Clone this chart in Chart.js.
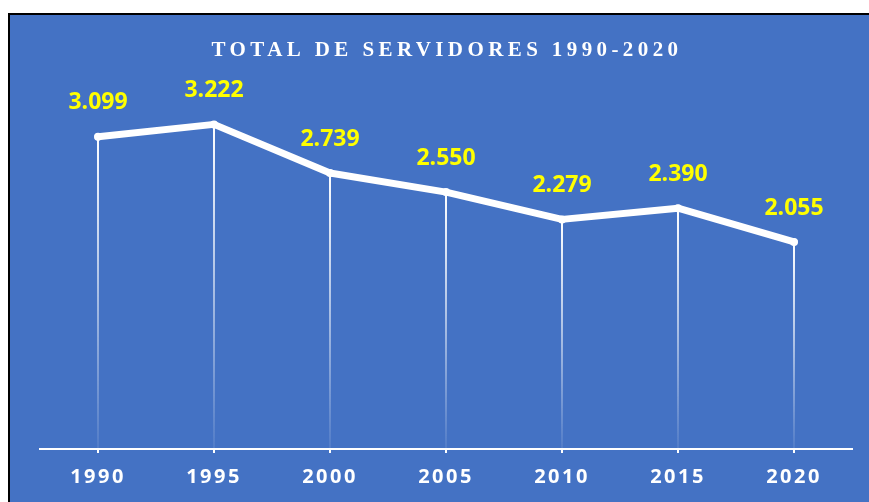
<!DOCTYPE html>
<html>
<head>
<meta charset="utf-8">
<script src="https://cdn.jsdelivr.net/npm/chart.js@4"></script>
<style>
  html, body { margin: 0; padding: 0; background: #ffffff; }
  #marco {
    position: absolute; left: 8px; top: 13px; width: 880px; height: 500px;
    background: #4472c4; border-left: 2px solid #000; border-top: 2px solid #000;
  }
  #wrap { position: absolute; left: 0; top: 0; width: 869px; height: 502px; }
</style>
</head>
<body>
<div id="marco"></div>
<div id="wrap"><canvas id="grafico"></canvas></div>
<script>
// Datos
const anios = ['1990', '1995', '2000', '2005', '2010', '2015', '2020'];
const servidores = [3099, 3222, 2739, 2550, 2279, 2390, 2055];
const titulo = 'TOTAL DE SERVIDORES 1990-2020';

// Formato con punto de miles: 3099 -> "3.099"
function formatoMiles(n) {
  return String(n).replace(/\B(?=(\d{3})+(?!\d))/g, '.');
}

// Título con espaciado entre letras
const pluginTitulo = {
  id: 'tituloEspaciado',
  afterDraw(chart) {
    const ctx = chart.ctx;
    ctx.save();
    ctx.font = 'bold 21px "Liberation Serif", serif';
    ctx.letterSpacing = '4.4px';
    ctx.fillStyle = '#ffffff';
    ctx.textAlign = 'center';
    ctx.textBaseline = 'middle';
    ctx.fillText(titulo, 447, 51);
    ctx.restore();
  }
};

// Líneas verticales desde cada punto hasta el eje, con degradado
const pluginCaidas = {
  id: 'lineasCaida',
  beforeDatasetsDraw(chart) {
    const ctx = chart.ctx;
    const meta = chart.getDatasetMeta(0);
    const base = chart.scales.y.getPixelForValue(0);
    ctx.save();
    meta.data.forEach(p => {
      const g = ctx.createLinearGradient(0, p.y, 0, base);
      g.addColorStop(0, 'rgba(255,255,255,1)');
      g.addColorStop(0.45, 'rgba(255,255,255,0.6)');
      g.addColorStop(1, 'rgba(255,255,255,0.08)');
      ctx.strokeStyle = g;
      ctx.lineWidth = 2;
      ctx.beginPath();
      ctx.moveTo(p.x, p.y);
      ctx.lineTo(p.x, base);
      ctx.stroke();
    });
    ctx.restore();
  }
};

// Etiquetas amarillas encima de cada punto
const pluginEtiquetas = {
  id: 'etiquetasValor',
  afterDatasetsDraw(chart) {
    const ctx = chart.ctx;
    const meta = chart.getDatasetMeta(0);
    ctx.save();
    ctx.letterSpacing = '0px';
    ctx.font = 'bold 23px "Open Sans", sans-serif';
    ctx.fillStyle = '#ffff00';
    ctx.textAlign = 'center';
    ctx.textBaseline = 'middle';
    meta.data.forEach((p, i) => {
      ctx.fillText(formatoMiles(servidores[i]), p.x, p.y - 34);
    });
    ctx.restore();
  }
};

// Espaciado para las etiquetas del eje X
const pluginEspaciadoEje = {
  id: 'espaciadoEje',
  beforeDraw(chart) { chart.ctx.letterSpacing = '2.5px'; },
  afterDraw(chart) { chart.ctx.letterSpacing = '0px'; }
};

new Chart(document.getElementById('grafico'), {
  type: 'line',
  data: {
    labels: anios,
    datasets: [{
      label: 'Servidores',
      data: servidores,
      borderColor: '#ffffff',
      backgroundColor: '#ffffff',
      borderWidth: 7,
      borderCapStyle: 'round',
      borderJoinStyle: 'round',
      pointRadius: 4,
      pointBorderWidth: 0,
      tension: 0
    }]
  },
  options: {
    responsive: true,
    maintainAspectRatio: false,
    animation: false,
    layout: { padding: { left: 40, right: 17, top: 46, bottom: 1 } },
    plugins: {
      legend: { display: false },
      title: { display: false },
      tooltip: { enabled: false }
    },
    scales: {
      x: {
        offset: true,
        border: { display: true, color: '#ffffff', width: 2 },
        grid: {
          offset: false,
          drawOnChartArea: false,
          drawTicks: true,
          tickLength: 4,
          color: '#ffffff',
          lineWidth: 2
        },
        ticks: {
          color: '#ffffff',
          padding: 12,
          font: { family: '"Open Sans", sans-serif', size: 20, weight: 'bold' }
        }
      },
      y: {
        display: false,
        min: 0,
        max: 4000
      }
    }
  },
  plugins: [pluginEspaciadoEje, pluginCaidas, pluginEtiquetas, pluginTitulo]
});
</script>
</body>
</html>
